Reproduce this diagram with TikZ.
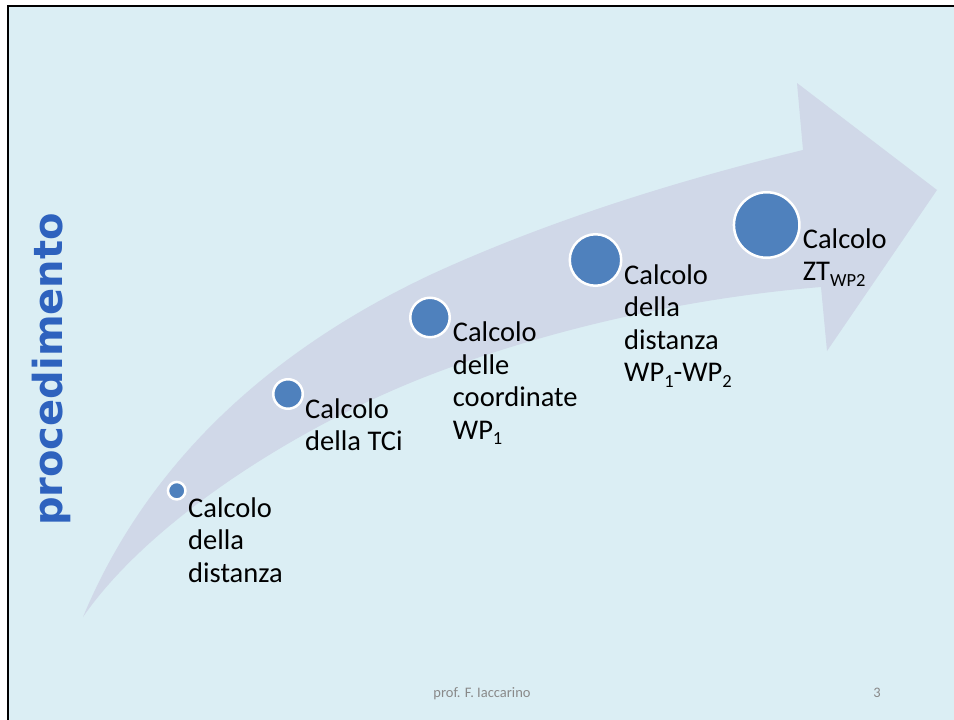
\documentclass[tikz,border=0pt]{standalone}
\usepackage{fontspec}
\setmainfont{Carlito}
\newfontfamily\headfont{DejaVu Sans}
\definecolor{slidebg}{RGB}{219,238,244}
\definecolor{bandcol}{RGB}{208,216,232}
\definecolor{dotblue}{RGB}{79,129,189}
\definecolor{headblue}{RGB}{46,98,190}
\definecolor{footgray}{RGB}{137,137,137}
\usetikzlibrary{positioning}
\newcommand\lowidx[1]{\raisebox{-5.5pt}{\fontsize{18.5}{18.5}\selectfont #1}}

\begin{document}
\begin{tikzpicture}[x=1pt, y=-1pt,
    dot/.style={circle, draw=white, line width=2.5pt, fill=dotblue, inner sep=0pt},
    lbl/.style={anchor=base west, align=left, inner sep=0pt, font=\fontsize{28.5}{32.5}\selectfont},
    foot/.style={anchor=base, inner sep=0pt, text=footgray, font=\fontsize{14.5}{17}\selectfont}
  ]
  \useasboundingbox (0,0) rectangle (954,720);
  \fill[white] (0,0) rectangle (954,720);
  \fill[slidebg] (8,6) rectangle (954,720);
  \draw[black, line width=2.5pt] (8,720) -- (8,6) -- (954,6);

  % curved arrow behind the steps
  \fill[bandcol] (83,617) .. controls (140,480) and (250,360) .. (430,275)
    .. controls (560,215) and (700,175) .. (803,150)
    -- (797,83) -- (937,190) -- (827,351) -- (821,287)
    .. controls (700,297) and (560,325) .. (430,375)
    .. controls (300,425) and (150,520) .. (83,617) -- cycle;

  \node[rotate=90, inner sep=0pt, text=headblue, font=\headfont\bfseries\fontsize{40}{40}\selectfont] (ttl) at (51,369.5) {procedimento};

  % steps (labels anchored on the baseline of their last line)
  \node[dot, minimum size=17.5pt] (c1) at (176.7,490.7) {};
  \node[dot, minimum size=29.5pt] (c2) at (288,394) {};
  \node[dot, minimum size=39.5pt] (c3) at (430,317.5) {};
  \node[dot, minimum size=51.5pt] (c4) at (595.5,260) {};
  \node[dot, minimum size=65.5pt] (c5) at (766.7,225) {};

  \node[lbl] (t1) at (188,582) {Calcolo\\della\\distanza};
  \node[lbl] (t2) at (305,450.5) {Calcolo\\della TCi};
  \node[lbl] (t3) at (452.7,439.2) {Calcolo\\delle\\coordinate\\WP\lowidx{1}};
  \node[lbl] (t4) at (624,381.5) {Calcolo\\della\\distanza\\WP\lowidx{1}-WP\lowidx{2}};
  \node[lbl] (t5) at (802.7,280.8) {Calcolo\\ZT\lowidx{WP2}};

  \node[foot] (author) at (482,697) {prof. F. Iaccarino};
  \node[foot] (pagenum) at (877,697) {3};
\end{tikzpicture}
\end{document}
